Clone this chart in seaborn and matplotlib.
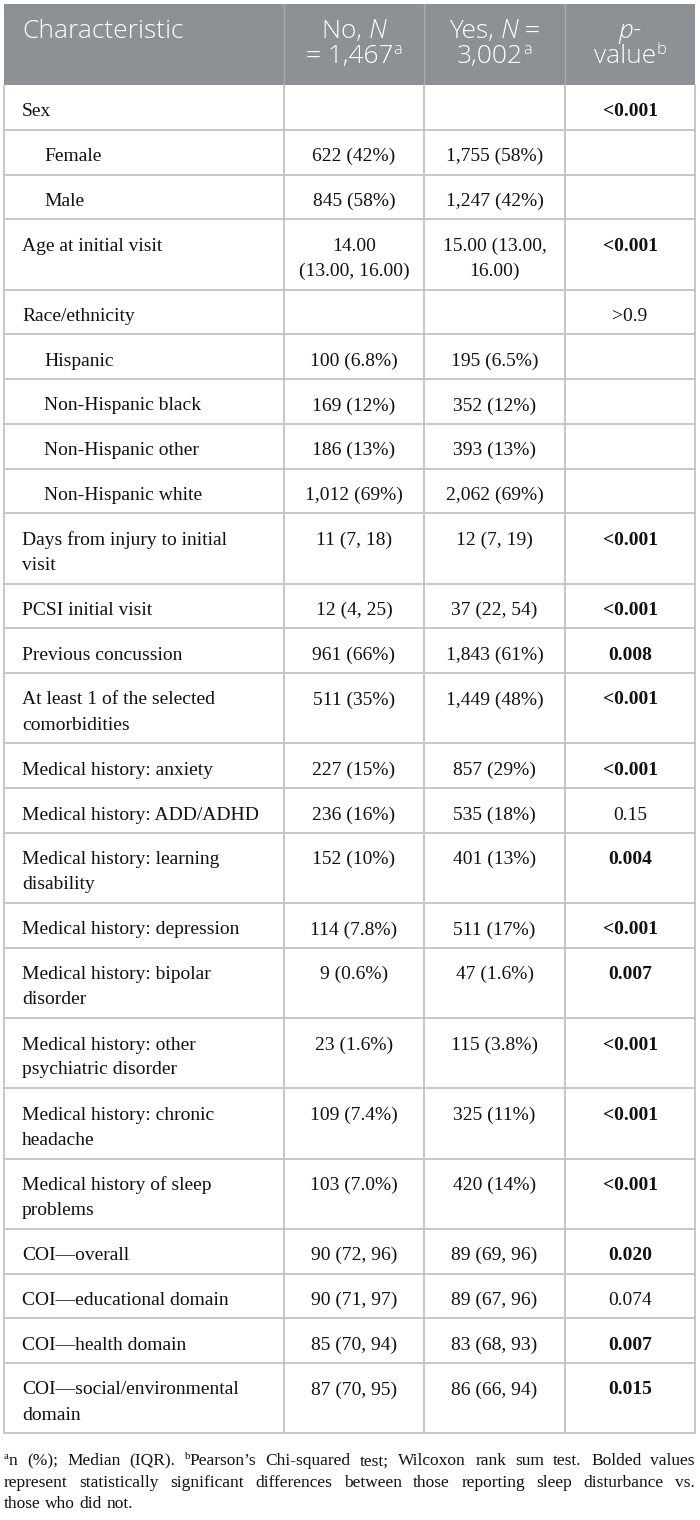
import matplotlib
matplotlib.use("Agg")
import matplotlib.pyplot as plt
import seaborn as sns

# table content
labels = [
    "Sex", "Female", "Male", "Age at initial visit", "Race/ethnicity",
    "Hispanic", "Non-Hispanic black", "Non-Hispanic other", "Non-Hispanic white",
    "Days from injury to initial\nvisit", "PCSI initial visit", "Previous concussion",
    "At least 1 of the selected\ncomorbidities", "Medical history: anxiety",
    "Medical history: ADD/ADHD", "Medical history: learning\ndisability",
    "Medical history: depression", "Medical history: bipolar\ndisorder",
    "Medical history: other\npsychiatric disorder", "Medical history: chronic\nheadache",
    "Medical history of sleep\nproblems", "COI\u2014overall", "COI\u2014educational domain",
    "COI\u2014health domain", "COI\u2014social/environmental\ndomain",
]
indented = ["Female", "Male", "Hispanic", "Non-Hispanic black",
            "Non-Hispanic other", "Non-Hispanic white"]
no_vals = [
    "", "622 (42%)", "845 (58%)", "14.00\n(13.00, 16.00)", "",
    "100 (6.8%)", "169 (12%)", "186 (13%)", "1,012 (69%)",
    "11 (7, 18)", "12 (4, 25)", "961 (66%)", "511 (35%)", "227 (15%)",
    "236 (16%)", "152 (10%)", "114 (7.8%)", "9 (0.6%)", "23 (1.6%)",
    "109 (7.4%)", "103 (7.0%)", "90 (72, 96)", "90 (71, 97)", "85 (70, 94)",
    "87 (70, 95)",
]
yes_vals = [
    "", "1,755 (58%)", "1,247 (42%)", "15.00 (13.00,\n16.00)", "",
    "195 (6.5%)", "352 (12%)", "393 (13%)", "2,062 (69%)",
    "12 (7, 19)", "37 (22, 54)", "1,843 (61%)", "1,449 (48%)", "857 (29%)",
    "535 (18%)", "401 (13%)", "511 (17%)", "47 (1.6%)", "115 (3.8%)",
    "325 (11%)", "420 (14%)", "89 (69, 96)", "89 (67, 96)", "83 (68, 93)",
    "86 (66, 94)",
]
p_vals = [
    "<0.001", "", "", "<0.001", ">0.9", "", "", "", "",
    "<0.001", "<0.001", "0.008", "<0.001", "<0.001", "0.15", "0.004",
    "<0.001", "0.007", "<0.001", "<0.001", "<0.001", "0.020", "0.074",
    "0.007", "0.015",
]
p_bold = [v not in ("", ">0.9", "0.15", "0.074") for v in p_vals]

header_cells = [
    [[("Characteristic", "n")]],
    [[("No, ", "n"), ("N", "i")], [("= 1,467", "n"), ("a", "sup")]],
    [[("Yes, ", "n"), ("N", "i"), (" =", "n")], [("3,002", "n"), ("a", "sup")]],
    [[("p", "i"), ("-", "n")], [("value", "n"), ("b", "sup")]],
]
footnote = [
    "^an (%); Median (IQR). ^bPearson\u2019s Chi-squared test; Wilcoxon rank sum test. Bolded values",
    "represent statistically significant differences between those reporting sleep disturbance vs.",
    "those who did not.",
]

# layout (pixels)
W, H = 700, 1520
col_x = [4, 284, 424, 565, 695]
head_top, head_bot = 4, 85
row_h1, row_step = 44.75, 25.5
header_gray = "#8c9196"
grid_col = "#c3c3c3"
body_font = ["Liberation Serif", "DejaVu Serif"]
head_font = ["Open Sans", "DejaVu Sans"]
body_size = 14
head_size = 19
foot_size = 12.5

sns.set_theme(style="white")
plt.rcParams["font.family"] = body_font

fig = plt.figure(figsize=(W / 100, H / 100), dpi=100)
ax = fig.add_axes([0, 0, 1, 1])
ax.set_xlim(0, W)
ax.set_ylim(H, 0)
ax.axis("off")
renderer = fig.canvas.get_renderer()


def style_kw(style, family, size, weight=None):
    kw = dict(family=family, fontsize=size)
    if weight:
        kw["fontweight"] = weight
    if style == "i":
        kw["fontstyle"] = "italic"
    if style == "b":
        kw["fontweight"] = "bold"
    if style == "sup":
        kw["fontsize"] = size * 0.62
    return kw


def text_width(s, **kw):
    t1 = ax.text(0, 0, "|" + s + "|", **kw)
    t2 = ax.text(0, 0, "||", **kw)
    w = t1.get_window_extent(renderer).width - t2.get_window_extent(renderer).width
    t1.remove()
    t2.remove()
    return w


def runs_width(runs, family, size, weight=None):
    return sum(text_width(s, **style_kw(st, family, size, weight)) for s, st in runs)


def draw_runs(x, y, runs, family, size, color, ha="left", weight=None):
    total = runs_width(runs, family, size, weight)
    if ha == "center":
        x = x - total / 2
    for s, st in runs:
        kw = style_kw(st, family, size, weight)
        dy = -size * 100 / 72 * 0.36 if st == "sup" else 0
        ax.text(x, y + dy, s, color=color, va="baseline", ha="left", **kw)
        x += text_width(s, **kw)


# header band
ax.fill_between([col_x[0], col_x[-1]], head_top, head_bot, color=header_gray, lw=0)
for cx in col_x[1:-1]:
    ax.plot([cx, cx], [head_top, head_bot], color="#a9adb0", lw=1.0)
head_base = [38, 63]
for ci, cell in enumerate(header_cells):
    for li, line in enumerate(cell):
        if ci == 0:
            draw_runs(22, head_base[li], line, head_font, head_size, "white",
                      weight="light")
        else:
            cx = (col_x[ci] + col_x[ci + 1]) / 2
            draw_runs(cx, head_base[li], line, head_font, head_size, "white",
                      ha="center", weight="light")

# body rows
y = head_bot
centers = [(col_x[i] + col_x[i + 1]) / 2 for i in range(4)]
for lab, nv, yv, pv, pb in zip(labels, no_vals, yes_vals, p_vals, p_bold):
    n_lines = max(s.count("\n") + 1 for s in (lab, nv, yv, pv))
    h = row_h1 + row_step * (n_lines - 1)
    base = y + 31.5
    x0 = 44 if lab in indented else 22
    for k, part in enumerate(lab.split("\n")):
        ax.text(x0, base + k * 25, part, fontsize=body_size, va="baseline",
                ha="left", color="#111111")
    for cx, val, bold in ((centers[1], nv, False), (centers[2], yv, False),
                          (centers[3], pv, pb)):
        for k, part in enumerate(val.split("\n")):
            ax.text(cx, base + k * 25, part, fontsize=body_size, va="baseline",
                    ha="center", color="#111111",
                    fontweight="bold" if bold else "normal")
    y += h
    ax.plot([col_x[0], col_x[-1]], [y, y], color=grid_col, lw=1.3)
table_bot = y
for cx in col_x:
    ax.plot([cx, cx], [head_bot, table_bot], color=grid_col, lw=1.3)


# footnote, justified
def parse_word(tok):
    if tok.startswith("^"):
        return [(tok[1], "sup"), (tok[2:], "n")]
    return [(tok, "n")]


fy = table_bot + 32
for li, line in enumerate(footnote):
    words = [parse_word(t) for t in line.split(" ")]
    widths = [runs_width(w, body_font, foot_size) for w in words]
    last = li == len(footnote) - 1
    if last:
        gap = text_width(" ", **style_kw("n", body_font, foot_size))
    else:
        gap = (col_x[-1] - col_x[0] - sum(widths)) / (len(words) - 1)
    x = col_x[0]
    for w, wd in zip(words, widths):
        draw_runs(x, fy, w, body_font, foot_size, "#111111")
        x += wd + gap
    fy += 21.5

fig.savefig("out.png", dpi=100)
